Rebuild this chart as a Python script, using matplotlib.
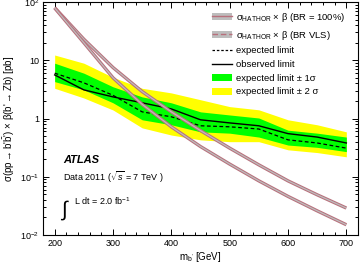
import numpy as np
import matplotlib
matplotlib.use('Agg')
import matplotlib.pyplot as plt
from matplotlib.lines import Line2D
from matplotlib.patches import Patch
from matplotlib.ticker import FixedLocator, MultipleLocator, FixedFormatter, LogLocator, NullFormatter

plt.rcParams['font.family'] = ['Liberation Sans', 'DejaVu Sans']
plt.rcParams['mathtext.fontset'] = 'custom'
plt.rcParams['mathtext.rm'] = 'Liberation Sans'
plt.rcParams['mathtext.it'] = 'Liberation Sans:italic'
plt.rcParams['mathtext.bf'] = 'Liberation Sans:bold'

# b' mass points [GeV]
mass = [200, 250, 300, 350, 400, 450, 500, 550, 600, 650, 700]

# limits [pb]
observed = [5.6, 3.1, 2.35, 1.86, 1.46, 0.95, 0.84, 0.75, 0.55, 0.48, 0.38]
expected = [6.0, 4.1, 2.5, 1.3, 1.07, 0.75, 0.72, 0.66, 0.43, 0.38, 0.31]
exp_p1 = [8.9, 6.0, 3.5, 2.35, 1.86, 1.3, 1.15, 1.02, 0.63, 0.56, 0.48]
exp_m1 = [4.3, 3.1, 1.86, 0.95, 0.78, 0.59, 0.56, 0.48, 0.35, 0.32, 0.27]
exp_p2 = [12.3, 8.9, 5.1, 3.3, 2.75, 2.1, 1.6, 1.41, 0.95, 0.78, 0.59]
exp_m2 = [3.3, 2.25, 1.4, 0.69, 0.52, 0.43, 0.40, 0.40, 0.29, 0.26, 0.22]

# theory cross section x branching ratio [pb]
hathor_br100 = [80, 23, 7.5, 2.9, 1.3, 0.62, 0.31, 0.16, 0.085, 0.049, 0.029]
hathor_vls = [79, 20, 5.0, 1.75, 0.72, 0.33, 0.165, 0.085, 0.046, 0.026, 0.015]

yellow = '#ffff00'
green = '#00ff00'
brown = '#b8707c'
grey = '#bdbdbd'

fig = plt.figure(figsize=(3.63, 2.66), dpi=100)
ax = fig.add_axes([43/363, 1-235/266, 315/363, 233/266])

ax.fill_between(mass, exp_m2, exp_p2, color=yellow, lw=0)
ax.fill_between(mass, exp_m1, exp_p1, color=green, lw=0)
ax.plot(mass, expected, color='black', lw=0.9, ls=(0, (3, 2)))
ax.plot(mass, observed, color='black', lw=1.0)

for curve in [hathor_br100, hathor_vls]:
    ax.plot(mass, curve, color=brown, lw=2.4, solid_capstyle='butt')
    ax.plot(mass, curve, color=grey, lw=0.9, solid_capstyle='butt')

ax.set_yscale('log')
ax.set_xlim(180, 720)
ax.set_ylim(0.01, 100)

ax.xaxis.set_major_locator(MultipleLocator(100))
ax.xaxis.set_minor_locator(MultipleLocator(20))
ax.yaxis.set_major_locator(FixedLocator([0.01, 0.1, 1, 10, 100]))
ax.yaxis.set_major_formatter(FixedFormatter(['$10^{-2}$', '$10^{-1}$', '1', '10', '$10^{2}$']))
ax.yaxis.set_minor_locator(LogLocator(base=10, subs=np.arange(2, 10), numticks=20))
ax.yaxis.set_minor_formatter(NullFormatter())
ax.tick_params(which='both', direction='in', top=True, right=True, labelsize=6.5, width=0.7)
ax.tick_params(which='major', length=4.5, pad=3)
ax.tick_params(which='minor', length=2.3)
for s in ax.spines.values():
    s.set_linewidth(0.8)

ax.set_xlabel("m$_{\\mathrm{b'}}$ [GeV]", fontsize=7, labelpad=1.5)
ax.set_ylabel("σ(pp$\\rightarrow$b'$\\bar{\\mathrm{b}}$') × β(b'$\\rightarrow$Zb) [pb]",
              fontsize=7, labelpad=2)

ax.text(0.065, 0.31, 'ATLAS', transform=ax.transAxes, fontsize=8, fontweight='bold',
        fontstyle='italic')
ax.text(0.065, 0.232, 'Data 2011 ($\\sqrt{s}$ = 7 TeV )', transform=ax.transAxes, fontsize=6.5)
ax.text(0.055, 0.085, '$\\int$', transform=ax.transAxes, fontsize=15)
ax.text(0.098, 0.128, 'L dt = 2.0 fb$^{-1}$', transform=ax.transAxes, fontsize=6.5)

handles = [
    (Patch(facecolor=grey, edgecolor='none'), Line2D([], [], color=brown, lw=1.0)),
    (Patch(facecolor=grey, edgecolor='none'), Line2D([], [], color=brown, lw=1.0, ls=(0, (4, 2)))),
    Line2D([], [], color='black', lw=0.9, ls=(0, (2, 1.5))),
    Line2D([], [], color='black', lw=1.0),
    Patch(facecolor=green, edgecolor='none'),
    Patch(facecolor=yellow, edgecolor='none'),
]
labels = [
    'σ$_{\\mathrm{HATHOR}}$ × β (BR = 100%)',
    'σ$_{\\mathrm{HATHOR}}$ × β (BR VLS)',
    'expected limit',
    'observed limit',
    'expected limit ± 1σ',
    'expected limit ± 2 σ',
]
ax.legend(handles, labels, loc='upper left', bbox_to_anchor=(0.535, 0.962), frameon=False,
          fontsize=6.8, handlelength=2.2, handleheight=0.8, handletextpad=0.4,
          labelspacing=0.5, borderpad=0, borderaxespad=0)

fig.savefig('out.png', dpi=100)
